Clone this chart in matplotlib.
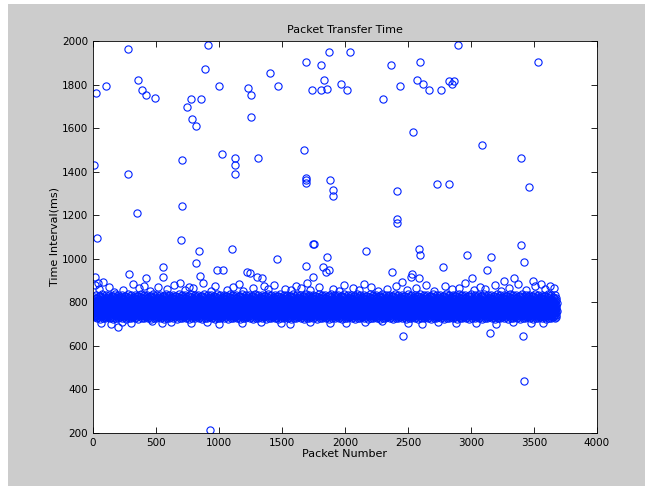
import numpy as np
import matplotlib
matplotlib.use('Agg')
import matplotlib.pyplot as plt
from matplotlib.patches import Rectangle

n_packets = 3680

# typical per-packet intervals (ms) inside the dense band, read off the plot and cycled
band_ms = [772, 748, 801, 765, 736, 790, 812, 757, 779, 744, 826, 768, 795, 731, 784,
           760, 808, 752, 775, 741, 818, 787, 763, 799, 738, 770, 833, 781, 749, 805,
           766, 727, 793, 758, 821, 777, 742, 810, 769, 786, 754, 733, 798, 762, 815,
           780, 745, 829, 773, 804, 751, 789, 739, 767, 830, 782, 756, 724, 796, 764,
           778, 743, 807, 771, 792, 747, 823, 761, 785, 735, 802, 774, 753, 836, 788,
           766, 740, 813, 759, 797, 776, 729, 806, 750, 783, 769, 819, 746, 791, 762,
           827, 777, 737, 800, 755, 814, 781, 744, 726, 794, 832]

# scattered points just above / below the band
edge_x = [15, 48, 77, 130, 165, 240, 318, 367, 402, 455, 512, 590, 640, 688, 733, 760,
          795, 872, 935, 968, 1060, 1115, 1160, 1190, 1270, 1355, 1390, 1440, 1520, 1575,
          1610, 1650, 1702, 1725, 1790, 1905, 1950, 1995, 2060, 2110, 2150, 2210, 2260,
          2330, 2405, 2450, 2490, 2560, 2640, 2705, 2790, 2850, 2905, 2950, 3020, 3070,
          3110, 3190, 3235, 3300, 3375, 3440, 3510, 3555, 3590, 3630, 3660,
          60, 140, 230, 300, 470, 545, 620, 780, 905, 1000, 1180, 1330, 1490, 1560, 1720,
          1880, 2010, 2160, 2290, 2500, 2610, 2740, 2880, 3040, 3200, 3330, 3480, 3570]
edge_y = [880, 862, 895, 871, 848, 858, 884, 866, 874, 852, 869, 861, 878, 890, 857, 872,
          865, 887, 853, 876, 858, 870, 883, 851, 866, 874, 859, 880, 863, 855, 877, 868,
          889, 856, 871, 863, 850, 879, 866, 858, 884, 870, 853, 861, 876, 892, 857, 868,
          881, 853, 874, 860, 866, 888, 855, 871, 863, 879, 850, 868, 882, 857, 873, 886,
          861, 875, 866,
          706, 701, 709, 704, 712, 703, 708, 705, 710, 702, 707, 711, 704, 700, 709,
          706, 703, 708, 712, 705, 701, 709, 704, 707, 702, 710, 706, 703]

# outliers: packet number, interval (ms)
out_x = [21, 101, 281, 355, 386, 423, 495, 910, 889, 746, 778, 860, 783, 818, 1003,
         1228, 1252, 1257, 1405, 1469, 1689, 1808, 1837, 1871, 1739, 1808, 1858, 1972,
         2014, 2038, 5, 275, 352, 29, 707, 707, 699, 1024, 1130, 1130, 1130, 1308, 1675,
         1689, 1689, 1689, 1882, 1903, 1903, 1744, 1755, 2898, 2366, 2599, 3528, 2303,
         2438, 2573, 2623, 2670, 2763, 2824, 2848, 2866, 2538, 3089, 3398, 3462, 2416,
         2729, 2824, 2416, 2416, 3398, 842, 1101, 1858, 818, 1461, 556, 556, 288, 1689,
         1749, 1829, 1850, 1871, 982, 1030, 1220, 1247, 1305, 1340, 850, 421, 12, 40,
         198, 926, 2170, 2586, 2594, 2967, 3160, 3420, 3128, 2777, 2374, 2530, 2523,
         2588, 3004, 3261, 3340, 3491, 2464, 3150, 3412, 3420]
out_y = [1760, 1795, 1962, 1822, 1774, 1752, 1740, 1983, 1871, 1699, 1732, 1732, 1642,
         1610, 1795, 1783, 1752, 1650, 1852, 1795, 1902, 1891, 1822, 1950, 1774, 1774,
         1781, 1803, 1774, 1950, 1432, 1391, 1212, 1094, 1452, 1241, 1087, 1481, 1462,
         1432, 1391, 1462, 1501, 1371, 1361, 1350, 1362, 1315, 1290, 1067, 1067, 1983,
         1891, 1902, 1902, 1732, 1793, 1822, 1803, 1774, 1774, 1816, 1803, 1816, 1584,
         1521, 1462, 1331, 1312, 1344, 1344, 1182, 1163, 1065, 1037, 1045, 1007, 980,
         1001, 960, 918, 932, 967, 918, 960, 941, 949, 949, 949, 941, 934, 918, 911,
         921, 911, 915, 890, 686, 213, 1037, 1047, 1019, 1019, 1009, 987, 948, 960,
         940, 931, 918, 911, 911, 898, 911, 898, 647, 660, 647, 438]

packet = np.arange(1, n_packets + 1)
interval = np.array([band_ms[i % len(band_ms)] for i in range(n_packets)], dtype=float)

fig = plt.figure(figsize=(6.45, 4.86), dpi=100, facecolor='white')
fig.patches.append(Rectangle((8 / 645, 0), 1, 1 - 4 / 486, transform=fig.transFigure,
                             facecolor='#cccccc', edgecolor='none', zorder=-1))
ax = fig.add_axes([93 / 645, 53 / 486, 504 / 645, 392 / 486])

style = dict(ls='none', marker='o', mfc='none', mec='#0022ff', ms=5.2, mew=0.8)
ax.plot(packet, interval, **style)
ax.plot(edge_x, edge_y, **style)
ax.plot(out_x, out_y, **style)

ax.set_xlim(0, 4000)
ax.set_ylim(200, 2000)
ax.set_xticks(range(0, 4001, 500))
ax.set_yticks(range(200, 2001, 200))
ax.tick_params(direction='in', top=True, right=True, labelsize=7.5, length=4, width=0.6)
for s in ax.spines.values():
    s.set_linewidth(0.6)
ax.set_title('Packet Transfer Time', fontsize=8, pad=6)
ax.set_xlabel('Packet Number', fontsize=8, labelpad=1)
ax.set_ylabel('Time Interval(ms)', fontsize=8, labelpad=2)

fig.savefig('out.png', dpi=100, facecolor=fig.get_facecolor())
